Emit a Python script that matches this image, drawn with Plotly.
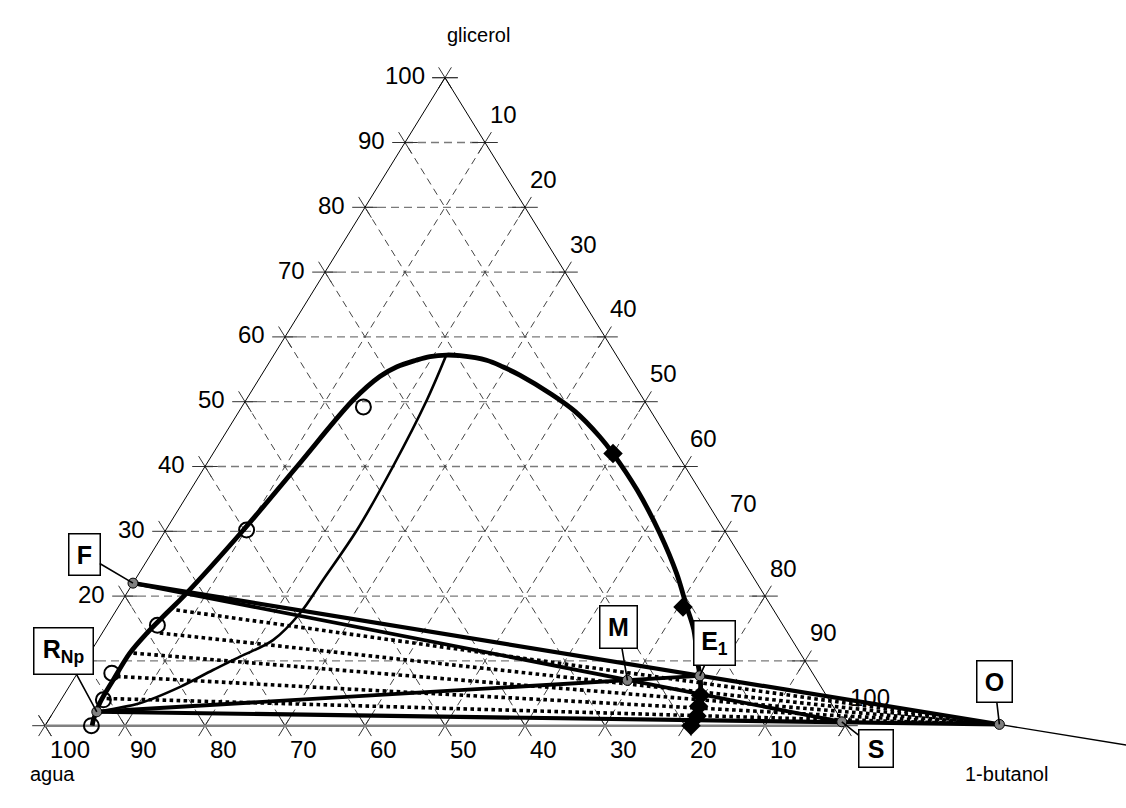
import plotly.graph_objects as go

# ---------------- data (mass %, glycerol g and 1-butanol b; agua = 100 - g - b) -------------
bin_g = [0.0, 0.9, 3.5, 7.05, 11.2, 14.3, 17.35, 20.2, 30.2, 40.0, 50.3, 53.9, 55.4, 56.4, 56.95, 57.2,
         57.1, 56.4, 55.35, 54.1, 51.3, 48.5, 44.55, 42.0, 36.4, 29.7, 23.5, 18.4, 14.8, 10.1, 7.05, 3.97, 2.1, 0.0]
bin_b = [5.9, 5.6, 5.1, 5.0, 5.0, 5.6, 6.5, 7.4, 9.7, 11.5, 13.4, 14.9, 16.3, 18.2, 19.65, 21.6,
         23.3, 27.0, 29.6, 32.3, 37.45, 42.0, 47.1, 50.0, 55.8, 62.0, 67.2, 71.0, 73.7, 76.5, 78.4, 79.9, 80.6, 80.9]

conj_g = [57.0, 50.3, 40.0, 30.2, 22.5, 17.35, 13.2, 10.65, 8.6, 6.0, 3.46, 2.7, 2.15]
conj_b = [21.6, 22.6, 23.5, 23.9, 23.5, 23.2, 21.9, 19.05, 16.7, 13.9, 10.1, 7.6, 5.4]

raf_g = [49.2, 30.2, 15.5, 8.1, 4.0, 0.0]
raf_b = [15.2, 10.1, 6.3, 4.3, 5.3, 5.8]

ext_g = [42.0, 18.3, 4.7, 3.0, 1.5, 0.0]
ext_b = [50.0, 70.6, 79.6, 80.2, 80.75, 80.75]

tie_g = [17.85, 14.3, 11.2, 7.6, 4.2]
tie_b = [7.5, 7.2, 5.45, 5.2, 5.6]

pt_names = ["F", "R_Np", "M", "E1", "S", "O"]
pt_g = [22.0, 2.15, 7.0, 7.7, 0.6, 0.2]
pt_b = [0.0, 5.4, 69.3, 78.0, 99.3, 119.2]

grid_vals = [10, 20, 30, 40, 50, 60, 70, 80, 90]
tick_vals = [0, 10, 20, 30, 40, 50, 60, 70, 80, 90, 100]
left_labels = [20, 30, 40, 50, 60, 70, 80, 90, 100]          # glicerol
bottom_labels = [100, 90, 80, 70, 60, 50, 40, 30, 20, 10]    # agua
right_labels = [10, 20, 30, 40, 50, 60, 70, 80, 90, 100]     # 1-butanol


def X(g, b):
    return b + g / 2.0


P = {n: (g, b) for n, g, b in zip(pt_names, pt_g, pt_b)}

FONT = "Liberation Sans, Arial, sans-serif"
fig = go.Figure()

# ---------------- grid ----------------
hx, hy, sx, sy = [], [], [], []
for k in grid_vals:
    hx += [X(k, 0), X(k, 100 - k), None]
    hy += [k, k, None]
    sx += [X(0, k), X(100 - k, k), None]
    sy += [0, 100 - k, None]
    sx += [X(0, 100 - k), X(100 - k, 0), None]
    sy += [0, 100 - k, None]
fig.add_trace(go.Scatter(x=hx, y=hy, mode="lines", hoverinfo="skip",
                         line=dict(color="#7a7a7a", width=1.3, dash="8px,5px")))
fig.add_trace(go.Scatter(x=sx, y=sy, mode="lines", hoverinfo="skip",
                         line=dict(color="#444444", width=1, dash="7px,5px")))

# ---------------- tick crosses ----------------
d = 1.6
tx, ty = [], []
for k in tick_vals:
    tx += [X(k, -d), X(k, d), None, X(k + d, -d), X(k - d, d), None]
    ty += [k, k, None, k + d, k - d, None]
    tx += [X(-d, k), X(d, k), None, X(-d, k + d), X(d, k - d), None]
    ty += [-d, d, None, -d, d, None]
    gg = 100 - k
    tx += [X(gg, k - d), X(gg, k + d), None, X(gg - d, k), X(gg + d, k), None]
    ty += [gg, gg, None, gg - d, gg + d, None]
fig.add_trace(go.Scatter(x=tx, y=ty, mode="lines", hoverinfo="skip",
                         line=dict(color="#333333", width=1)))

# ---------------- triangle edges ----------------
fig.add_trace(go.Scatter(x=[X(0, 0), X(100, 0), X(0, 100)], y=[0, 100, 0], mode="lines",
                         hoverinfo="skip", line=dict(color="black", width=1)))
fig.add_trace(go.Scatter(x=[X(0, 0), X(0, 100)], y=[0, 0], mode="lines",
                         hoverinfo="skip", line=dict(color="#808080", width=2.5)))

# ---------------- dotted lines from raffinate side to O ----------------
dx, dy = [], []
gO, bO = P["O"]
for g, b in zip(tie_g, tie_b):
    dx += [X(g, b), X(gO, bO), None]
    dy += [g, gO, None]
fig.add_trace(go.Scatter(x=dx, y=dy, mode="lines", hoverinfo="skip",
                         line=dict(color="black", width=3.6, dash="3.6px,3.4px")))

# ---------------- conjugate (thin) curve ----------------
fig.add_trace(go.Scatter(x=[X(g, b) for g, b in zip(conj_g, conj_b)], y=conj_g, mode="lines",
                         hoverinfo="skip", line=dict(color="black", width=2.6, shape="spline", smoothing=1.0)))

# ---------------- construction lines ----------------
def seg(names, width, color="black"):
    fig.add_trace(go.Scatter(x=[X(*P[n]) for n in names], y=[P[n][0] for n in names],
                             mode="lines", hoverinfo="skip", line=dict(color=color, width=width)))

seg(["F", "S"], 3.8)
seg(["R_Np", "M", "E1"], 3.8)
seg(["F", "E1", "O"], 4.2)
seg(["R_Np", "S", "O"], 4.2)
gF, bF = P["F"]
ext_t = 0.35
fig.add_trace(go.Scatter(x=[X(gO, bO), X(gO, bO) + ext_t * (X(gO, bO) - X(gF, bF))],
                         y=[gO, gO + ext_t * (gO - gF)], mode="lines", hoverinfo="skip",
                         line=dict(color="black", width=1.4)))

# ---------------- binodal curve ----------------
fig.add_trace(go.Scatter(x=[X(g, b) for g, b in zip(bin_g, bin_b)], y=bin_g, mode="lines",
                         hoverinfo="skip", line=dict(color="black", width=4.8, shape="spline", smoothing=1.0)))

# ---------------- experimental points ----------------
fig.add_trace(go.Scatter(x=[X(g, b) for g, b in zip(raf_g, raf_b)], y=raf_g, mode="markers",
                         hoverinfo="skip",
                         marker=dict(symbol="circle-open", size=15, color="black", line=dict(width=2))))
fig.add_trace(go.Scatter(x=[X(g, b) for g, b in zip(ext_g, ext_b)], y=ext_g, mode="markers",
                         hoverinfo="skip",
                         marker=dict(symbol="diamond", size=15, color="black")))
fig.add_trace(go.Scatter(x=[X(g, b) for g, b in zip(pt_g, pt_b)], y=pt_g, mode="markers",
                         hoverinfo="skip",
                         marker=dict(symbol="circle", size=10, color="#808080",
                                     line=dict(color="black", width=1))))

# ---------------- tick labels ----------------
TF = dict(size=24, color="black", family=FONT)
ann = []
for k in left_labels:
    ann.append(dict(x=X(k, 0), y=k, text=str(k), showarrow=False, xanchor="right",
                    xshift=-18, yshift=2, font=TF))
for w in bottom_labels:
    b = 100 - w
    ann.append(dict(x=X(0, b), y=0, text=str(w), showarrow=False, xanchor="left",
                    xshift=3, yshift=-24, font=TF))
for b in right_labels:
    ann.append(dict(x=X(100 - b, b), y=100 - b, text=str(b), showarrow=False, xanchor="left",
                    xshift=3, yshift=28, font=TF))

for txt, px, py in [("glicerol", 478, 22), ("agua", 28, 787), ("1-butanol", 1050, 787)]:
    ann.append(dict(x=px / 1126, y=1 - py / 808, xref="paper", yref="paper", text=txt,
                    showarrow=False, font=dict(size=20, color="black", family=FONT)))

# ---------------- point labels (boxed) ----------------
labels = {
    "F": ("<b>F</b>", -49, -29, 26, 36),
    "R_Np": ("<b>R<sub>Np</sub></b>", -33, -61, 54, 41),
    "M": ("<b>M</b>", -9, -53, 32, 37),
    "E1": ("<b>E<sub>1</sub></b>", 15, -33, 36, 39),
    "S": ("<b>S</b>", 34, 27, 29, 32),
    "O": ("<b>O</b>", -5, -43, 30, 36),
}
for n, (txt, axo, ayo, wd, ht) in labels.items():
    g, b = P[n]
    ann.append(dict(x=X(g, b), y=g, text=txt, showarrow=True, arrowhead=0, arrowwidth=1.6,
                    arrowcolor="black", ax=axo, ay=ayo, width=wd, height=ht, borderpad=2,
                    bordercolor="black", borderwidth=1.5, bgcolor="white",
                    font=dict(size=25, color="black", family=FONT)))

fig.update_layout(
    width=1126, height=808,
    margin=dict(l=0, r=0, t=0, b=0),
    paper_bgcolor="white", plot_bgcolor="white",
    showlegend=False,
    xaxis=dict(range=[-45 / 8, (1126 - 45) / 8], visible=False, showgrid=False, zeroline=False,
               fixedrange=True),
    yaxis=dict(range=[(725.7 - 808) / 6.48, 725.7 / 6.48], visible=False, showgrid=False,
               zeroline=False, fixedrange=True),
    annotations=ann,
)

fig.write_html("out.html", config=dict(displayModeBar=False),
               post_script="document.body.style.margin='0';document.body.style.overflow='hidden';")
